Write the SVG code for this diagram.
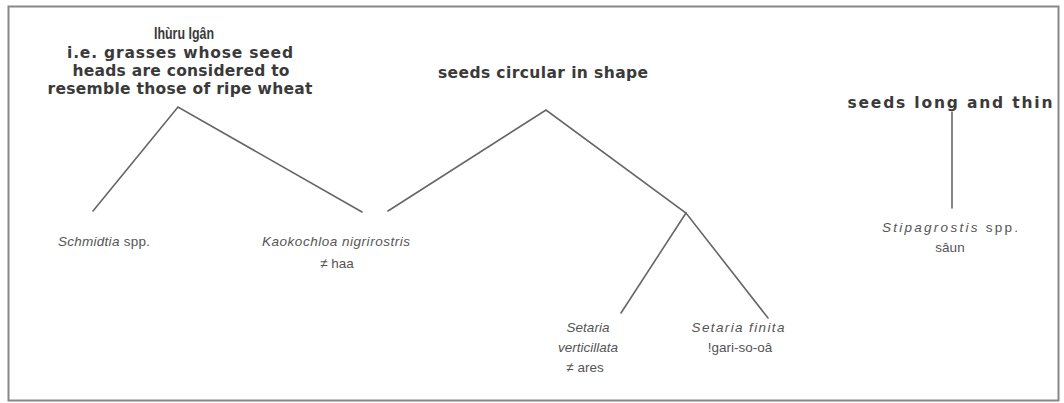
<svg xmlns="http://www.w3.org/2000/svg" width="1064" height="403" viewBox="0 0 1064 403">
<style>
.h{font-family:"DejaVu Sans","Liberation Sans",sans-serif;font-weight:bold;font-size:15.5px;fill:#3a3a3a;text-anchor:middle}
.n{font-family:"Liberation Sans Narrow","Liberation Sans",sans-serif;font-weight:bold;font-size:16px;fill:#3a3a3a;text-anchor:middle}
.t{font-family:"Liberation Sans",Arial,sans-serif;font-size:13.5px;fill:#555}
.c{text-anchor:middle}
.i{font-style:italic}
.ln{stroke:#666;stroke-width:1.6;fill:none;stroke-linecap:round}
</style>
<rect x="8.5" y="6.5" width="1050" height="394" fill="#fff" stroke="#888" stroke-width="2"/>
<g id="connectors">
<polyline class="ln" points="93,211 178,107 362,212"/>
<polyline class="ln" points="388,211 546,110 686,213 768,318"/>
<line class="ln" x1="686" y1="213" x2="621" y2="313"/>
<line class="ln" x1="952" y1="112" x2="952" y2="208"/>
</g>
<g id="n-ihuru">
<text class="n" x="184" y="39" textLength="60" lengthAdjust="spacingAndGlyphs">Ihùru Igân</text>
<text class="h" x="180" y="58" textLength="226">i.e. grasses whose seed</text>
<text class="h" x="181" y="76" textLength="217">heads are considered to</text>
<text class="h" x="180" y="94" textLength="265">resemble those of ripe wheat</text>
</g>
<g id="n-circular">
<text class="h" x="543" y="78" textLength="210">seeds circular in shape</text>
</g>
<g id="n-long">
<text class="h" x="950" y="108" textLength="205">seeds long and thin</text>
</g>
<g id="n-schmidtia">
<text class="t" x="58" y="246" textLength="92"><tspan class="i">Schmidtia</tspan> spp.</text>
</g>
<g id="n-kaokochloa">
<text class="t i" x="262" y="246" textLength="148">Kaokochloa nigrirostris</text>
<text class="t c" x="337" y="268">≠ haa</text>
</g>
<g id="n-verticillata">
<text class="t c i" x="588" y="332">Setaria</text>
<text class="t c i" x="588" y="352">verticillata</text>
<text class="t c" x="585" y="372">≠ ares</text>
</g>
<g id="n-finita">
<text class="t c i" x="738" y="332" textLength="93">Setaria finita</text>
<text class="t c" x="740" y="352">!gari-so-oâ</text>
</g>
<g id="n-stipagrostis">
<text class="t c" x="950" y="232" textLength="136"><tspan class="i">Stipagrostis</tspan> spp.</text>
<text class="t c" x="950" y="252">sâun</text>
</g>
</svg>
